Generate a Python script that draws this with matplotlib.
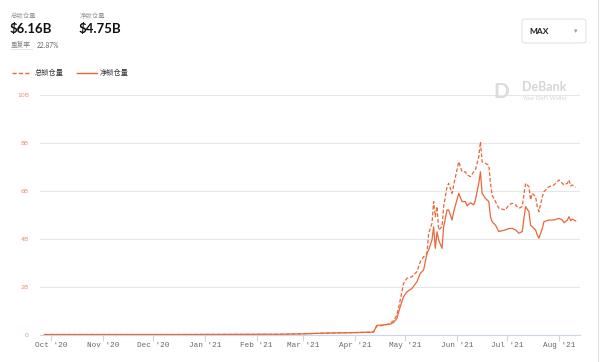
import matplotlib.pyplot as plt
import matplotlib.dates as mdates
from matplotlib.patches import FancyBboxPatch
import pandas as pd

plt.rcParams['font.family'] = ['Noto Sans CJK SC', 'DejaVu Sans']

# 数据 (单位: B)
dates = ['2020-09-27', '2020-10-15', '2020-11-15', '2020-12-15', '2021-01-15',
         '2021-02-15', '2021-03-01', '2021-03-15', '2021-04-01', '2021-04-12',
         '2021-04-14', '2021-04-18', '2021-04-22', '2021-04-24',
         '2021-04-26', '2021-04-28', '2021-04-30', '2021-05-02', '2021-05-05',
         '2021-05-08', '2021-05-10', '2021-05-12', '2021-05-14', '2021-05-15',
         '2021-05-17', '2021-05-18', '2021-05-19', '2021-05-20', '2021-05-21',
         '2021-05-23', '2021-05-24', '2021-05-26', '2021-05-27', '2021-05-29',
         '2021-05-30', '2021-06-02', '2021-06-04', '2021-06-06', '2021-06-07',
         '2021-06-09', '2021-06-11', '2021-06-12', '2021-06-14', '2021-06-15',
         '2021-06-16', '2021-06-18', '2021-06-20', '2021-06-21', '2021-06-22',
         '2021-06-24', '2021-06-26', '2021-06-30', '2021-07-02', '2021-07-04',
         '2021-07-06', '2021-07-08', '2021-07-10', '2021-07-12', '2021-07-14',
         '2021-07-15', '2021-07-16', '2021-07-18', '2021-07-19', '2021-07-20',
         '2021-07-22', '2021-07-23', '2021-07-26', '2021-07-29', '2021-08-01',
         '2021-08-03', '2021-08-04', '2021-08-06', '2021-08-07', '2021-08-08',
         '2021-08-09', '2021-08-11']

total_tvl = [0.02, 0.02, 0.02, 0.02, 0.025,
             0.03, 0.05, 0.08, 0.10, 0.12,
             0.38, 0.40, 0.48, 0.60,
             0.83, 1.46, 2.15, 2.36, 2.43,
             2.64, 3.05, 3.26, 3.40, 4.24,
             4.65, 5.56, 4.93, 5.35, 4.38,
             4.51, 5.35, 6.18, 6.32, 5.90,
             6.25, 7.22, 6.80, 6.80, 6.67,
             6.60, 6.80, 6.88, 7.43, 8.05,
             7.22, 7.15, 7.08, 6.32, 5.83,
             5.56, 5.28, 5.21, 5.42, 5.49,
             5.42, 5.28, 5.35, 6.32, 6.18,
             5.63, 5.90, 5.76, 5.35, 5.14,
             5.76, 5.97, 6.18, 6.25, 6.46,
             6.32, 6.25, 6.32, 6.46, 6.21,
             6.25, 6.16]

net_tvl = [0.02, 0.02, 0.02, 0.02, 0.025,
           0.03, 0.05, 0.08, 0.10, 0.12,
           0.40, 0.42, 0.45, 0.52,
           0.69, 1.18, 1.60, 1.80, 1.94,
           2.22, 2.57, 2.71, 3.40, 3.54,
           3.96, 4.51, 3.61, 4.30, 3.96,
           3.61, 4.51, 5.21, 5.21, 4.79,
           5.14, 5.90, 5.56, 5.56, 5.38,
           5.51, 5.42, 5.63, 6.32, 6.80,
           5.90, 5.69, 5.56, 4.93, 4.72,
           4.58, 4.31, 4.38, 4.44, 4.44,
           4.38, 4.24, 4.31, 5.35, 5.14,
           4.58, 4.51, 4.38, 4.17, 4.03,
           4.44, 4.72, 4.79, 4.79, 4.86,
           4.79, 4.68, 4.79, 4.93, 4.76,
           4.83, 4.75]

y_ticks = [0, 2, 4, 6, 8, 10]
y_labels = ['0', '2B', '4B', '6B', '8B', '10B']
month_ticks = ['2020-10-01', '2020-11-01', '2020-12-01', '2021-01-01', '2021-02-01',
               '2021-03-01', '2021-04-01', '2021-05-01', '2021-06-01', '2021-07-01',
               '2021-08-01']

color = '#e8673b'
x = pd.to_datetime(dates)

fig = plt.figure(figsize=(6, 3.62), dpi=100)
ax = fig.add_axes([40 / 600, 27 / 362, 540 / 600, 240 / 362])

ax.plot(x, total_tvl, color=color, lw=0.9, ls=(0, (3, 1.6)))
ax.plot(x, net_tvl, color=color, lw=0.9)

ax.set_ylim(0, 10)
ax.set_xlim(pd.Timestamp('2020-09-24 10:00'), pd.Timestamp('2021-08-13 14:00'))
ax.set_yticks(y_ticks)
ax.set_yticklabels(y_labels, fontsize=4.5, color='#e8917a', family='DejaVu Sans')
ax.set_xticks(pd.to_datetime(month_ticks))
ax.xaxis.set_major_formatter(mdates.DateFormatter("%b '%y"))
for lab in ax.get_xticklabels():
    lab.set_fontsize(5.5)
    lab.set_color('#666666')
    lab.set_family('Liberation Mono')

ax.grid(axis='y', color='#e6e6e6', lw=0.8)
ax.set_axisbelow(True)
for s in ['top', 'right', 'left']:
    ax.spines[s].set_visible(False)
ax.spines['bottom'].set_color('#ccd6eb')
ax.spines['bottom'].set_linewidth(0.8)
ax.tick_params(axis='y', length=0, pad=8)
ax.tick_params(axis='x', length=4, color='#ccd6eb', width=0.8, pad=1)

# 顶部数值
fig.text(11 / 600, 1 - 16 / 362, '总锁仓量', fontsize=4.6, color='#999999', va='center')
fig.text(80 / 600, 1 - 16 / 362, '净锁仓量', fontsize=4.6, color='#999999', va='center')
fig.text(10 / 600, 1 - 29 / 362, '$6.16B', fontsize=9.5, weight='bold', color='#111111',
         family='Lato', va='center')
fig.text(79 / 600, 1 - 29 / 362, '$4.75B', fontsize=9.5, weight='bold', color='#111111',
         family='Lato', va='center')
fig.text(11 / 600, 1 - 45 / 362, '重复率', fontsize=4.8, color='#888888', va='center')
fig.text(37 / 600, 1 - 45 / 362, '22.87%', fontsize=4.8, color='#666666', family='Lato',
         va='center')
fig.add_artist(plt.Line2D([11 / 600, 33 / 600], [1 - 49 / 362, 1 - 49 / 362],
                          color='#bbbbbb', lw=0.5, ls=(0, (1, 1))))

# 图例
fig.add_artist(plt.Line2D([12 / 600, 30 / 600], [1 - 73 / 362, 1 - 73 / 362],
                          color=color, lw=1.0, ls=(0, (3, 1.6))))
fig.text(35 / 600, 1 - 73 / 362, '总锁仓量', fontsize=5.2, color='#333333', va='center')
fig.add_artist(plt.Line2D([77 / 600, 97 / 600], [1 - 73 / 362, 1 - 73 / 362],
                          color=color, lw=1.0))
fig.text(100 / 600, 1 - 73 / 362, '净锁仓量', fontsize=5.2, color='#333333', va='center')

# MAX 选择框
box = FancyBboxPatch((522 / 600, 1 - 43 / 362), 64 / 600, 24 / 362,
                     boxstyle='round,pad=0,rounding_size=0.006',
                     transform=fig.transFigure, fc='white', ec='#d9d9d9', lw=0.6)
fig.add_artist(box)
fig.text(529 / 600, 1 - 31 / 362, 'MAX', fontsize=6, weight='bold', color='#222222',
         family='Lato', va='center')
fig.text(576 / 600, 1 - 31 / 362, '▾', fontsize=5, color='#999999', ha='center',
         va='center', family='DejaVu Sans')

# 水印
fig.text(501 / 600, 1 - 92 / 362, 'D', fontsize=15, weight='bold', color='#dcdcdc',
         ha='center', va='center', family='Lato')
fig.text(522 / 600, 1 - 87 / 362, 'DeBank', fontsize=9, weight='bold', color='#d6d6d6',
         va='center', family='Lato')
fig.text(522 / 600, 1 - 99 / 362, 'Your DeFi Wallet', fontsize=4.2, color='#d6d6d6',
         va='center', family='Lato')

fig.add_artist(plt.Line2D([598 / 600, 598 / 600], [0, 1], color='#e0e0e0', lw=0.8))

plt.savefig('out.png', dpi=100)
